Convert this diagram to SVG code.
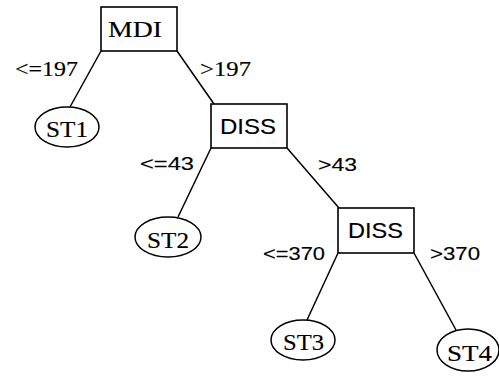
<svg xmlns="http://www.w3.org/2000/svg" width="499" height="376" viewBox="0 0 499 376">
<style>
.box{fill:#fff;stroke:#000;stroke-width:1.6}
.ell{fill:#fff;stroke:#000;stroke-width:1.5}
.edge{stroke:#000;stroke-width:1.5;fill:none}
text{fill:#000;stroke:#000;stroke-width:0.15}
.node-serif{font-family:"Liberation Serif","Times New Roman",serif;font-size:23px}
.node-sans{font-family:"Liberation Sans",Arial,sans-serif;font-size:22px}
.lab-serif{font-family:"Liberation Serif","Times New Roman",serif;font-size:20px}
.lab-sans{font-family:"Liberation Sans",Arial,sans-serif;font-size:18px}
</style>
<rect width="499" height="376" fill="#fff"/>
<g id="connectors">
<line class="edge" x1="101" y1="51" x2="70" y2="107"/>
<line class="edge" x1="177" y1="51" x2="214" y2="104"/>
<line class="edge" x1="211" y1="148" x2="178" y2="217"/>
<line class="edge" x1="287" y1="148" x2="339" y2="208"/>
<line class="edge" x1="338" y1="253" x2="307" y2="320"/>
<line class="edge" x1="414" y1="253" x2="456" y2="330"/>
<text class="lab-serif" x="15" y="76" textLength="63" lengthAdjust="spacingAndGlyphs">&lt;=197</text>
<text class="lab-serif" x="200" y="76" textLength="51" lengthAdjust="spacingAndGlyphs">&gt;197</text>
<text class="lab-sans" x="140" y="170" textLength="54" lengthAdjust="spacingAndGlyphs">&lt;=43</text>
<text class="lab-sans" x="318" y="171" textLength="39" lengthAdjust="spacingAndGlyphs">&gt;43</text>
<text class="lab-sans" x="263" y="260" textLength="62" lengthAdjust="spacingAndGlyphs">&lt;=370</text>
<text class="lab-sans" x="430" y="260" textLength="50" lengthAdjust="spacingAndGlyphs">&gt;370</text>
</g>
<g id="MDI">
<rect class="box" x="101" y="7" width="76" height="44"/>
<text class="node-serif" x="108" y="37" textLength="54" lengthAdjust="spacingAndGlyphs" style="font-size:24px">MDI</text>
</g>
<g id="ST1">
<ellipse class="ell" cx="67" cy="127" rx="32" ry="20"/>
<text class="node-serif" x="46" y="137" textLength="42" lengthAdjust="spacingAndGlyphs">ST1</text>
</g>
<g id="DISS1">
<rect class="box" x="211" y="104" width="76" height="44"/>
<text class="node-sans" x="220" y="134" textLength="56" lengthAdjust="spacingAndGlyphs">DISS</text>
</g>
<g id="ST2">
<ellipse class="ell" cx="168" cy="237" rx="33" ry="20"/>
<text class="node-serif" x="147" y="248" textLength="42" lengthAdjust="spacingAndGlyphs">ST2</text>
</g>
<g id="DISS2">
<rect class="box" x="338" y="208" width="76" height="45"/>
<text class="node-sans" x="348" y="238" textLength="55" lengthAdjust="spacingAndGlyphs">DISS</text>
</g>
<g id="ST3">
<ellipse class="ell" cx="303" cy="340" rx="32" ry="20"/>
<text class="node-serif" x="283" y="350" textLength="41" lengthAdjust="spacingAndGlyphs">ST3</text>
</g>
<g id="ST4">
<ellipse class="ell" cx="468" cy="350" rx="31" ry="21"/>
<text class="node-serif" x="447" y="361" textLength="45" lengthAdjust="spacingAndGlyphs">ST4</text>
</g>
</svg>
